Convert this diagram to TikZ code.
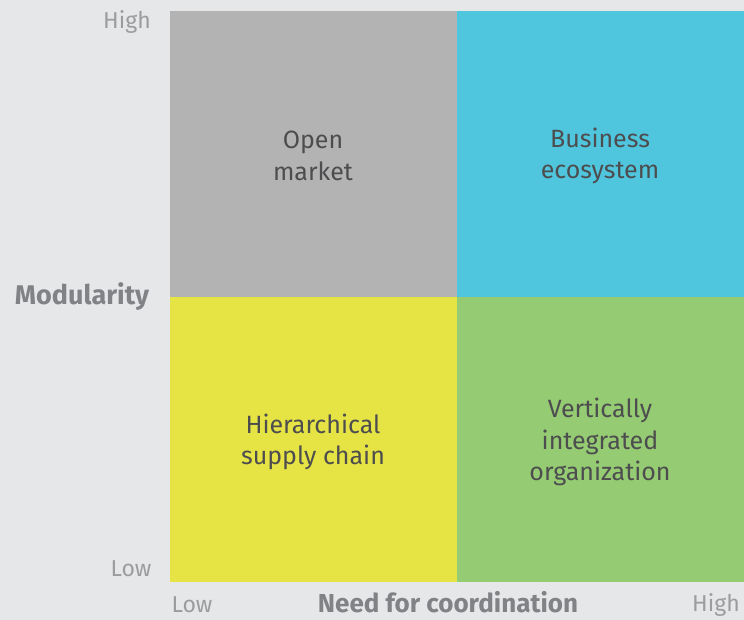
\documentclass[tikz,border=0pt]{standalone}
\usepackage{fontspec}
\setmainfont{Fira Sans}
\begin{document}
\definecolor{bgc}{HTML}{E6E7E8}
\definecolor{qgray}{HTML}{B3B3B3}
\definecolor{qcyan}{HTML}{4FC6DD}
\definecolor{qyellow}{HTML}{E6E344}
\definecolor{qgreen}{HTML}{95CB72}
\definecolor{ticktext}{HTML}{9B9C9E}
\definecolor{axistext}{HTML}{808285}
\definecolor{quadtext}{HTML}{4D4D4F}
\begin{tikzpicture}[x=1pt,y=1pt,
  tick/.style={text=ticktext,font=\fontsize{23}{26}\selectfont,inner sep=0pt},
  axis/.style={text=axistext,font=\fontsize{27}{30}\selectfont\bfseries,inner sep=0pt},
  quad/.style={text=quadtext,font=\fontsize{25}{31.5}\selectfont,align=center,inner sep=0pt}]
  % canvas
  \fill[bgc] (0,0) rectangle (744,620);
  \useasboundingbox (0,0) rectangle (744,620);
  % quadrants
  \fill[qgray]   (170,609) rectangle (457,323);
  \fill[qcyan]   (457,609) rectangle (744,323);
  \fill[qyellow] (170,323) rectangle (457,38);
  \fill[qgreen]  (457,323) rectangle (744,38);
  % quadrant labels
  \node[quad] (om) at (313,464) {Open\\market};
  \node[quad] (be) at (600,464) {Business\\ecosystem};
  \node[quad] (hs) at (313,178) {Hierarchical\\supply chain};
  \node[quad] (vi) at (600,178) {Vertically\\integrated\\organization};
  % vertical axis
  \node[tick] (yh) at (127,598) {High};
  \node[tick] (yl) at (131,51) {Low};
  \node[axis] (ya) at (82,323) {Modularity};
  % horizontal axis
  \node[tick] (xl) at (192,15) {Low};
  \node[tick] (xh) at (716,15) {High};
  \node[axis,font=\fontsize{26}{30}\selectfont\bfseries] (xa) at (448,18) {Need for coordination};
\end{tikzpicture}
\end{document}
